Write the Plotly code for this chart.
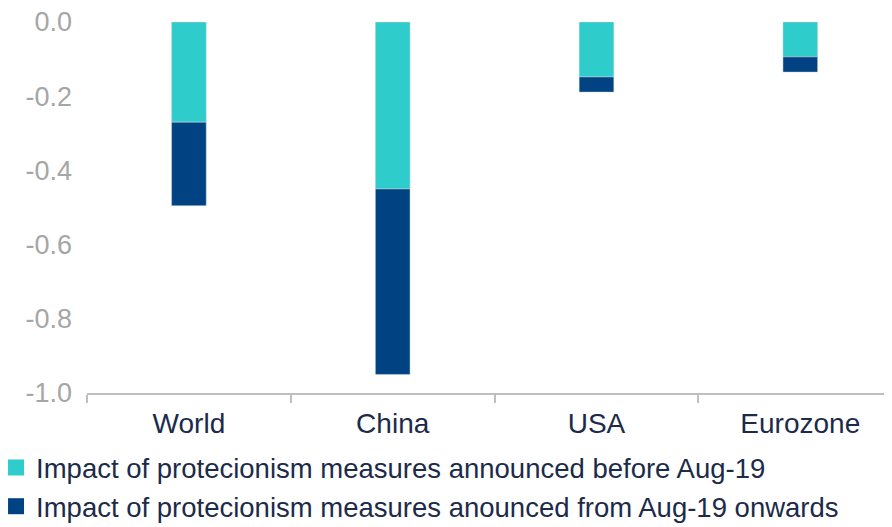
import plotly.graph_objects as go

categories = ["World", "China", "USA", "Eurozone"]
before_aug19 = [-0.27, -0.45, -0.148, -0.094]
from_aug19 = [-0.225, -0.50, -0.041, -0.041]
series_names = [
    "Impact of protecionism measures announced before Aug-19",
    "Impact of protecionism measures anounced from Aug-19 onwards",
]
colors = ["#2ECCCB", "#014382"]
ytick_vals = [0.0, -0.2, -0.4, -0.6, -0.8, -1.0]
ytick_text = ["0.0", "-0.2", "-0.4", "-0.6", "-0.8", "-1.0"]

fig = go.Figure()
for vals, name, col in zip([before_aug19, from_aug19], series_names, colors):
    fig.add_trace(go.Bar(x=categories, y=vals, name=name, showlegend=False,
                         marker=dict(color=col, line=dict(color="#C8D4DC", width=0.5))))
# legend entries with larger square swatches
for name, col in zip(series_names, colors):
    fig.add_trace(go.Scatter(x=[None], y=[None], mode="markers", name=name,
                             marker=dict(symbol="square", size=22, color=col)))

fig.update_layout(
    barmode="relative",
    bargap=0.83,
    width=884, height=519,
    margin=dict(l=79, r=0, t=14, b=134, autoexpand=False),
    paper_bgcolor="white", plot_bgcolor="white",
    font=dict(family="Liberation Sans, Arial, sans-serif", color="#1C2B4A"),
    showlegend=True,
    legend=dict(orientation="v", x=-0.113, xanchor="left", y=-0.135, yanchor="top",
                font=dict(size=27.5, color="#1C2B4A"), traceorder="normal",
                itemsizing="trace", itemwidth=30, tracegroupgap=0),
    xaxis=dict(range=[-0.5, 3.45], showline=True, linecolor="#BFBFBF", linewidth=1.5,
               ticks="outside", tickson="boundaries", ticklen=8, tickcolor="#BFBFBF",
               tickwidth=1.5, tickfont=dict(size=28, color="#1C2B4A"), showgrid=False,
               ticklabelstandoff=5),
    yaxis=dict(range=[-1.0, 0.0], tickvals=ytick_vals, ticktext=ytick_text,
               showgrid=False, zeroline=False, showline=False, ticklabeloverflow="allow",
               tickfont=dict(size=27, color="#A6A6A6"), ticklabelstandoff=14),
)

fig.write_html("out.html")
